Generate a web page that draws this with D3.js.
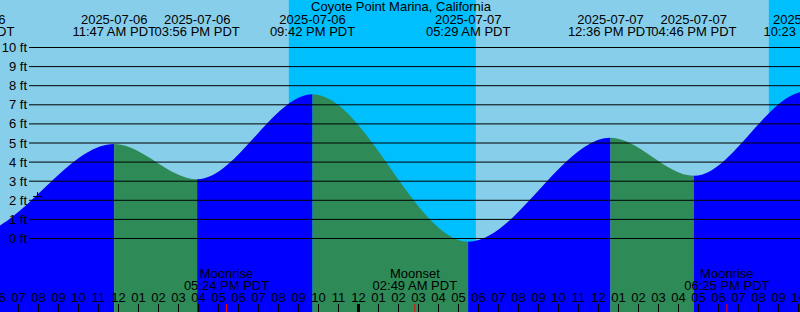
<!DOCTYPE html>
<html>
<head>
<meta charset="utf-8">
<script src="https://cdn.jsdelivr.net/npm/d3@7"></script>
<style>
  body { margin: 0; background: #fff; }
  svg { display: block; font-family: "Liberation Sans", Arial, sans-serif; font-size: 13px; }
</style>
</head>
<body>
<div id="chart"></div>
<script>
const title = "Coyote Point Marina, California";

// tide highs and lows (PDT); the first and last lie outside the window
const tideTimes = ["2025-07-05T22:50", "2025-07-06T04:41", "2025-07-06T11:47", "2025-07-06T15:56",
    "2025-07-06T21:42", "2025-07-07T05:29", "2025-07-07T12:36", "2025-07-07T16:46",
    "2025-07-07T22:23", "2025-07-08T06:10"];
const tideHeights = [6.8, 0.2, 4.95, 3.1, 7.55, -0.17, 5.27, 3.28, 7.7, -0.4];

// night = sunset .. sunrise
const nightStart = ["2025-07-06T20:31", "2025-07-07T20:31"];
const nightEnd = ["2025-07-07T05:52", "2025-07-08T05:53"];

const moonNames = ["Moonrise", "Moonset", "Moonrise"];
const moonTimes = ["2025-07-06T17:24", "2025-07-07T02:49", "2025-07-07T18:25"];

const feetTicks = [0, 1, 2, 3, 4, 5, 6, 7, 8, 9, 10];

const markTime = "2025-07-06T07:55";
const markHeight = 2.25;

const viewStart = "2025-07-06T06:04:30";
const viewEnd = "2025-07-07T22:04:30";

var width = 800, height = 312;

const parse = d3.timeParse("%Y-%m-%dT%H:%M");
const parseS = d3.timeParse("%Y-%m-%dT%H:%M:%S");
const fmtDate = d3.timeFormat("%Y-%m-%d");
const fmtTime = d => d3.timeFormat("%I:%M %p")(d) + " PDT";

const tides = tideTimes.map((t, i) => ({time: parse(t), h: tideHeights[i]}));

var x = d3.scaleTime()
    .domain([parseS(viewStart), parseS(viewEnd)])
    .range([0, width]);

var y = d3.scaleLinear()
    .domain([0, 10])
    .range([238.5, 47.5]);

var svg = d3.select("#chart")
    .append("svg")
    .attr("width", width)
    .attr("height", height);

// day sky
svg.append("rect")
    .attr("width", width)
    .attr("height", height)
    .attr("fill", "#87ceeb");

// night sky
svg.selectAll(".night")
    .data(nightStart)
    .enter().append("rect")
    .attr("class", "night")
    .attr("x", (d, i) => x(parse(d)))
    .attr("width", (d, i) => x(parse(nightEnd[i])) - x(parse(d)))
    .attr("y", 0)
    .attr("height", height)
    .attr("fill", "#00bfff");

// water
var area = d3.area()
    .x(d => x(d.time))
    .y0(height)
    .y1(d => y(d.h))
    .curve(d3.curveMonotoneX);

svg.append("clipPath")
    .attr("id", "water")
    .append("path")
    .attr("d", area(tides));

svg.append("g")
    .attr("clip-path", "url(#water)")
    .selectAll("rect")
    .data(tides.slice(0, -1))
    .enter().append("rect")
    .attr("x", d => x(d.time))
    .attr("width", (d, i) => x(tides[i + 1].time) - x(d.time))
    .attr("y", 0)
    .attr("height", height)
    .attr("fill", (d, i) => tides[i + 1].h > d.h ? "#0000ff" : "#2e8b57");

// feet lines
svg.selectAll(".grid")
    .data(feetTicks)
    .enter().append("line")
    .attr("x1", 29)
    .attr("x2", width)
    .attr("y1", d => y(d))
    .attr("y2", d => y(d))
    .attr("stroke", "#000")
    .attr("stroke-width", 1);

svg.selectAll(".ylab")
    .data(feetTicks)
    .enter().append("text")
    .attr("x", 27)
    .attr("y", d => y(d))
    .attr("dy", "0.35em")
    .attr("text-anchor", "end")
    .text(d => d + " ft");

// high / low labels on top
var ev = svg.selectAll(".ev")
    .data(tides)
    .enter().append("g")
    .attr("transform", d => "translate(" + x(d.time) + ",0)");
ev.append("text")
    .attr("y", 23.5)
    .attr("text-anchor", "middle")
    .text(d => fmtDate(d.time));
ev.append("text")
    .attr("y", 35.5)
    .attr("text-anchor", "middle")
    .text(d => fmtTime(d.time));

svg.append("text")
    .attr("x", 401)
    .attr("y", 11)
    .attr("text-anchor", "middle")
    .text(title);

// hours along the bottom
var hours = d3.timeHour.range(d3.timeHour.floor(x.domain()[0]), x.domain()[1]);

svg.selectAll(".hlab")
    .data(hours)
    .enter().append("text")
    .attr("x", d => x(d))
    .attr("y", 301.5)
    .attr("text-anchor", "middle")
    .text(d => d3.timeFormat("%I")(d));

svg.selectAll(".htick")
    .data(hours)
    .enter().append("line")
    .attr("x1", d => x(d))
    .attr("x2", d => x(d))
    .attr("y1", 304)
    .attr("y2", height)
    .attr("stroke", "#000")
    .attr("stroke-width", d => d.getHours() === 0 ? 3 : 1);

// moon
var moon = svg.selectAll(".moon")
    .data(moonTimes.map((t, i) => ({time: parse(t), name: moonNames[i]})))
    .enter().append("g")
    .attr("transform", d => "translate(" + x(d.time) + ",0)");
moon.append("text")
    .attr("y", 278)
    .attr("text-anchor", "middle")
    .text(d => d.name);
moon.append("text")
    .attr("y", 289.5)
    .attr("text-anchor", "middle")
    .text(d => fmtTime(d.time));
moon.append("line")
    .attr("y1", 304)
    .attr("y2", height)
    .attr("stroke", "#ff0000")
    .attr("stroke-width", 1);

// small cross marker
var mx = Math.round(x(parse(markTime))) + 0.5, my = Math.round(y(markHeight)) + 0.5;
svg.append("path")
    .attr("d", "M" + (mx - 4.5) + "," + my + "h9M" + mx + "," + (my - 4.5) + "v9")
    .attr("stroke", "#000")
    .attr("stroke-width", 1);
</script>
</body>
</html>
